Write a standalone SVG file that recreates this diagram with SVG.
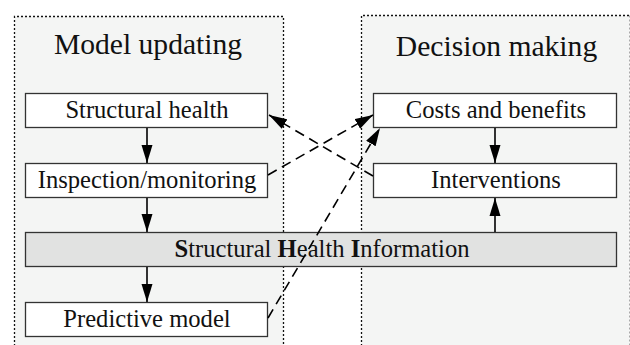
<svg xmlns="http://www.w3.org/2000/svg" width="630" height="345" viewBox="0 0 630 345">
<style>
.panel{fill:#f4f5f4;stroke:none}
.pb{fill:none;stroke:#111;stroke-width:1.3;stroke-dasharray:2,2}
.box{fill:#fff;stroke:#333;stroke-width:1.3}
.bar{fill:#e1e2e1;stroke:#333;stroke-width:1.3}
.t{font-family:"Liberation Serif","Times New Roman",serif;font-size:24.6px;fill:#111;text-anchor:middle}
.title{font-family:"Liberation Serif","Times New Roman",serif;font-size:29.6px;fill:#111;text-anchor:middle}
.solid{stroke:#000;stroke-width:1.6;fill:none;marker-end:url(#ah)}
.dash{stroke:#000;stroke-width:1.6;fill:none;stroke-dasharray:10,6;marker-end:url(#ah)}
</style>
<defs>
<marker id="ah" markerUnits="userSpaceOnUse" markerWidth="18" markerHeight="12" refX="18" refY="6" orient="auto">
<path d="M0,0.5 L18,6 L0,11.5 z" fill="#000"/>
</marker>
</defs>
<rect width="630" height="345" fill="#fff"/>
<g id="panel-model-updating">
<rect class="panel" x="14.5" y="16.5" width="269" height="340"/>
<path class="pb" d="M14.5,350 V16.5 H283.5 V350"/>
<text class="title" x="148" y="54">Model updating</text>
</g>
<g id="panel-decision-making">
<rect class="panel" x="361.5" y="15.5" width="268" height="340"/>
<path class="pb" d="M361.5,350 V15.5 H630"/>
<path d="M629.5,15.5 V350" fill="none" stroke="#aaa" stroke-width="1" stroke-dasharray="2,2"/>
<text class="title" x="496.5" y="56">Decision making</text>
</g>
<g id="node-structural-health">
<rect class="box" x="25.5" y="93.5" width="242" height="34"/>
<text class="t" x="147" y="118">Structural health</text>
</g>
<g id="node-inspection">
<rect class="box" x="25.5" y="163.5" width="242" height="34"/>
<text class="t" x="147" y="188">Inspection/monitoring</text>
</g>
<g id="node-shi">
<rect class="bar" x="25.5" y="232.5" width="591" height="34"/>
<text class="t" x="322" y="257"><tspan font-weight="bold">S</tspan>tructural <tspan font-weight="bold">H</tspan>ealth <tspan font-weight="bold">I</tspan>nformation</text>
</g>
<g id="node-predictive">
<rect class="box" x="25.5" y="302.5" width="242" height="34"/>
<text class="t" x="147" y="327">Predictive model</text>
</g>
<g id="node-costs">
<rect class="box" x="373.5" y="93.5" width="243" height="34"/>
<text class="t" x="496" y="118">Costs and benefits</text>
</g>
<g id="node-interventions">
<rect class="box" x="373.5" y="163.5" width="243" height="34"/>
<text class="t" x="496" y="188">Interventions</text>
</g>
<g id="connectors">
<line class="solid" x1="147" y1="128" x2="147" y2="163"/>
<line class="solid" x1="147" y1="198" x2="147" y2="232"/>
<line class="solid" x1="147" y1="267" x2="147" y2="302"/>
<line class="solid" x1="495" y1="128" x2="495" y2="163"/>
<line class="solid" x1="495" y1="232" x2="495" y2="198"/>
<line class="dash" x1="373" y1="176" x2="269" y2="115"/>
<line class="dash" x1="268" y1="175" x2="373" y2="115"/>
<line class="dash" x1="268" y1="318" x2="380" y2="128"/>
</g>
</svg>
